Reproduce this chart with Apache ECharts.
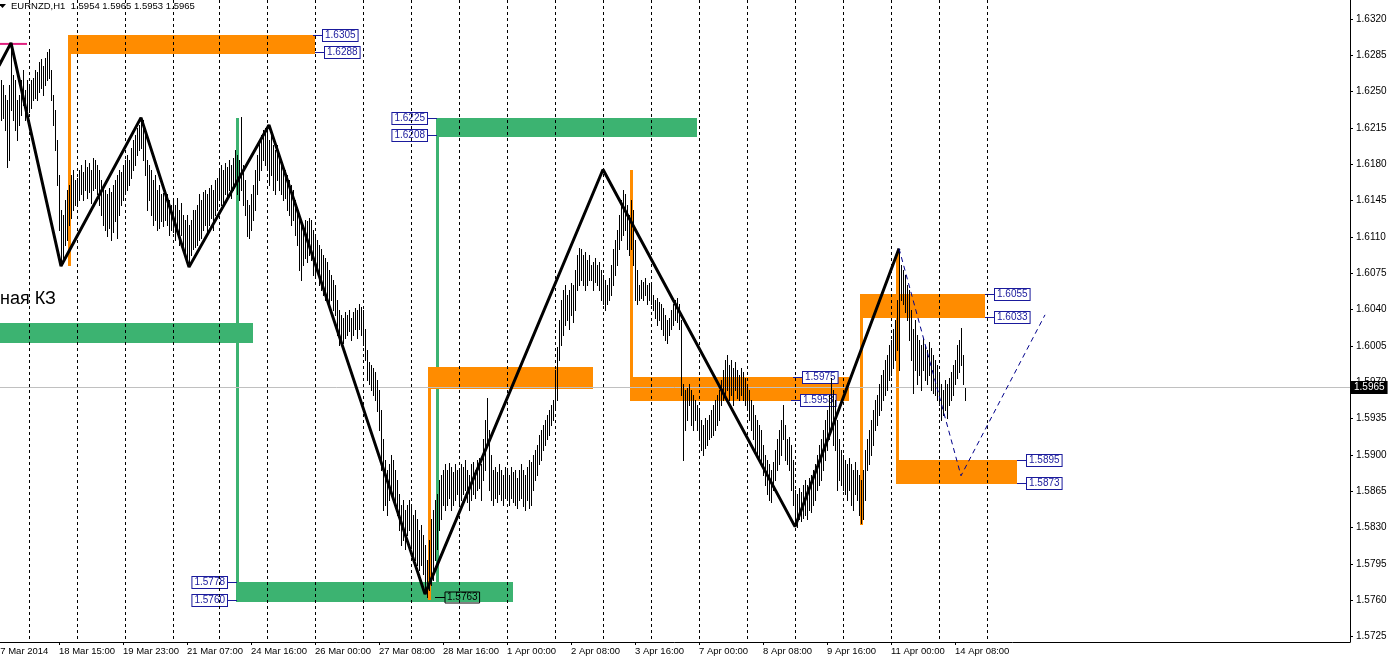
<!DOCTYPE html>
<html><head><meta charset="utf-8">
<script src="https://cdn.jsdelivr.net/npm/echarts@6/dist/echarts.min.js"></script>
<style>html,body{margin:0;padding:0;background:#fff}#c{width:1393px;height:661px}</style>
</head><body><div id="c"></div>
<script>
// ---------------- data ----------------
const symbol = 'EURNZD,H1';
const lastOHLC = [1.5954, 1.5965, 1.5953, 1.5965];
const days = ['2014.03.17','2014.03.18','2014.03.19','2014.03.20','2014.03.21','2014.03.24','2014.03.25','2014.03.26','2014.03.27','2014.03.28','2014.03.31','2014.04.01','2014.04.02','2014.04.03','2014.04.04','2014.04.07','2014.04.08','2014.04.09','2014.04.10','2014.04.11','2014.04.14','2014.04.15','2014.04.16','2014.04.17','2014.04.18','2014.04.21','2014.04.22','2014.04.23','2014.04.24'];
const firstBar = '2014.03.17 07:00';
const missingBars = ['2014.03.21 23:00'];
const barCount = 678;
const monthNames = ['Jan','Feb','Mar','Apr','May','Jun','Jul','Aug','Sep','Oct','Nov','Dec'];
const yTicks = [1.5725,1.5760,1.5795,1.5830,1.5865,1.5900,1.5935,1.5970,1.6005,1.6040,1.6075,1.6110,1.6145,1.6180,1.6215,1.6250,1.6285,1.6320];

// H1 bar highs / lows, from 17 Mar 07:00 to 14 Apr 13:00
const highs = [
 1.6271,1.6276,1.6281,1.6261,1.6256,1.6247,1.6242,1.6256,1.6296,1.6266,1.6261,1.6242,1.6247,1.6261,1.6271,1.6252,1.6261,
 1.6256,1.6261,1.6263,1.6271,1.6269,1.6279,1.6281,1.6275,1.6282,1.6288,1.6291,1.6271,1.6247,1.6232,1.6203,1.6170,1.6136,1.6131,1.6146,1.6155,1.6160,1.6170,1.6175,1.6165,
 1.6167,1.6175,1.6179,1.6173,1.6184,1.6177,1.6181,1.6175,1.6186,1.6184,1.6179,1.6175,1.6165,1.6160,1.6155,1.6151,1.6157,1.6153,1.6160,1.6165,1.6170,1.6175,1.6173,1.6179,
 1.6184,1.6189,1.6184,1.6196,1.6203,1.6208,1.6215,1.6218,1.6225,1.6223,1.6213,1.6184,1.6179,1.6175,1.6165,1.6170,1.6155,1.6160,1.6151,1.6152,1.6155,1.6151,1.6146,1.6141,
 1.6146,1.6141,1.6148,1.6136,1.6143,1.6131,1.6126,1.6131,1.6122,1.6126,1.6136,1.6136,1.6141,1.6151,1.6146,1.6153,1.6155,1.6151,1.6157,1.6160,1.6155,1.6165,1.6167,
 1.6175,1.6179,1.6175,1.6181,1.6177,1.6184,1.6179,1.6186,1.6194,1.6189,1.6184,1.6226,1.6179,1.6165,1.6146,1.6141,1.6151,1.6160,1.6175,1.6189,1.6203,1.6208,1.6213,1.6215,
 1.6218,1.6203,1.6208,1.6199,1.6194,1.6199,1.6189,1.6184,1.6179,1.6175,1.6170,1.6165,1.6160,1.6155,1.6146,1.6136,1.6126,1.6125,1.6122,1.6126,1.6125,1.6128,1.6126,1.6117,
 1.6112,1.6107,1.6102,1.6098,1.6093,1.6090,1.6086,1.6078,1.6073,1.6069,1.6064,1.6049,1.6040,1.6035,1.6032,1.6038,1.6035,1.6040,1.6032,1.6038,1.6042,1.6040,1.6045,1.6043,
 1.6040,1.6021,1.6001,1.5990,1.5987,1.5984,1.5980,1.5972,1.5963,1.5943,1.5915,1.5895,1.5886,1.5891,1.5900,1.5895,1.5886,1.5876,1.5862,1.5852,1.5857,1.5847,1.5852,1.5857,
 1.5852,1.5842,1.5847,1.5838,1.5828,1.5833,1.5823,1.5813,1.5799,1.5818,1.5838,1.5847,1.5857,1.5862,1.5876,1.5881,1.5886,1.5891,1.5886,1.5892,1.5888,1.5884,1.5891,1.5886,
 1.5886,1.5891,1.5888,1.5895,1.5886,1.5881,1.5891,1.5893,1.5886,1.5895,1.5897,1.5891,1.5915,1.5934,1.5955,1.5924,1.5900,1.5886,1.5888,1.5884,1.5891,1.5886,1.5881,1.5888,
 1.5886,1.5881,1.5888,1.5884,1.5886,1.5878,1.5886,1.5891,1.5886,1.5881,1.5888,1.5895,1.5893,1.5900,1.5905,1.5910,1.5919,1.5924,1.5929,1.5934,1.5939,1.5943,1.5948,1.5953,
 1.5982,1.6004,1.6030,1.6049,1.6059,1.6064,1.6054,1.6059,1.6066,1.6064,1.6078,1.6093,1.6099,1.6098,1.6093,1.6096,1.6088,1.6093,1.6083,1.6086,1.6090,1.6083,1.6086,1.6078,
 1.6073,1.6069,1.6064,1.6071,1.6083,1.6098,1.6107,1.6117,1.6131,1.6146,1.6155,1.6151,1.6141,1.6131,1.6146,1.6136,1.6107,1.6078,1.6064,1.6069,1.6067,1.6071,1.6064,1.6066,
 1.6064,1.6054,1.6049,1.6051,1.6047,1.6045,1.6042,1.6035,1.6030,1.6032,1.6040,1.6045,1.6049,1.6051,1.6045,1.6030,1.5968,1.5963,1.5965,1.5968,1.5963,1.5958,1.5953,1.5948,
 1.5943,1.5934,1.5929,1.5936,1.5934,1.5939,1.5943,1.5948,1.5953,1.5958,1.5963,1.5972,1.5982,1.5992,1.5996,1.5987,1.5992,1.5984,1.5990,1.5982,1.5977,1.5984,1.5980,1.5974,
 1.5968,1.5963,1.5953,1.5948,1.5939,1.5934,1.5929,1.5924,1.5910,1.5900,1.5895,1.5891,1.5886,1.5893,1.5905,1.5915,1.5924,1.5934,1.5948,1.5929,1.5915,1.5917,1.5910,1.5895,
 1.5866,1.5862,1.5868,1.5864,1.5871,1.5876,1.5871,1.5878,1.5881,1.5886,1.5891,1.5900,1.5910,1.5915,1.5924,1.5934,1.5943,1.5958,1.5974,1.5963,1.5953,1.5934,1.5915,1.5905,
 1.5900,1.5895,1.5891,1.5897,1.5891,1.5886,1.5893,1.5886,1.5881,1.5876,1.5886,1.5905,1.5915,1.5924,1.5934,1.5943,1.5953,1.5958,1.5968,1.5977,1.5982,1.5992,1.5996,1.6006,
 1.6011,1.6021,1.6030,1.6049,1.6098,1.6083,1.6078,1.6073,1.6064,1.6059,1.6040,1.6021,1.6030,1.6016,1.6011,1.6006,1.6013,1.6006,1.6001,1.6009,1.6003,1.5996,1.5992,1.5987,
 1.5977,1.5968,1.5963,1.5972,1.5968,1.5974,1.5980,1.5987,1.5992,1.6006,1.6011,1.6022,1.5996,1.5965
];
const lows = [
 1.6242,1.6247,1.6252,1.6223,1.6225,1.6213,1.6177,1.6184,1.6232,1.6223,1.6213,1.6203,1.6218,1.6228,1.6237,1.6223,1.6232,
 1.6230,1.6234,1.6242,1.6244,1.6242,1.6250,1.6254,1.6247,1.6256,1.6261,1.6263,1.6242,1.6218,1.6194,1.6160,1.6117,1.6086,1.6090,1.6102,1.6107,1.6122,1.6128,1.6136,1.6141,
 1.6141,1.6146,1.6151,1.6146,1.6155,1.6148,1.6153,1.6143,1.6155,1.6157,1.6151,1.6141,1.6131,1.6122,1.6117,1.6111,1.6119,1.6107,1.6115,1.6125,1.6109,1.6131,1.6141,1.6146,
 1.6151,1.6155,1.6160,1.6167,1.6175,1.6179,1.6189,1.6194,1.6196,1.6184,1.6170,1.6136,1.6146,1.6131,1.6122,1.6126,1.6117,1.6119,1.6125,1.6121,1.6126,1.6122,1.6112,1.6117,
 1.6115,1.6107,1.6117,1.6102,1.6112,1.6098,1.6090,1.6086,1.6082,1.6093,1.6098,1.6100,1.6102,1.6107,1.6109,1.6117,1.6122,1.6112,1.6122,1.6128,1.6117,1.6131,1.6136,
 1.6146,1.6141,1.6143,1.6151,1.6146,1.6155,1.6148,1.6155,1.6160,1.6151,1.6146,1.6155,1.6141,1.6131,1.6111,1.6109,1.6117,1.6126,1.6136,1.6151,1.6165,1.6175,1.6184,1.6179,
 1.6175,1.6160,1.6170,1.6155,1.6151,1.6165,1.6155,1.6151,1.6146,1.6148,1.6136,1.6131,1.6122,1.6126,1.6112,1.6102,1.6078,1.6069,1.6083,1.6090,1.6086,1.6093,1.6088,1.6073,
 1.6073,1.6078,1.6064,1.6059,1.6054,1.6049,1.6051,1.6045,1.6049,1.6040,1.6035,1.6016,1.6006,1.6011,1.6008,1.6013,1.6016,1.6019,1.6011,1.6016,1.6021,1.6013,1.6021,1.6016,
 1.6006,1.5992,1.5972,1.5968,1.5963,1.5958,1.5953,1.5942,1.5924,1.5886,1.5847,1.5852,1.5842,1.5857,1.5866,1.5859,1.5852,1.5842,1.5828,1.5813,1.5818,1.5809,1.5823,1.5828,
 1.5813,1.5804,1.5799,1.5794,1.5789,1.5794,1.5785,1.5770,1.5763,1.5770,1.5775,1.5780,1.5799,1.5809,1.5828,1.5838,1.5852,1.5847,1.5852,1.5859,1.5847,1.5852,1.5857,1.5862,
 1.5852,1.5857,1.5862,1.5866,1.5855,1.5847,1.5857,1.5862,1.5859,1.5866,1.5868,1.5857,1.5876,1.5886,1.5910,1.5866,1.5857,1.5852,1.5859,1.5855,1.5862,1.5857,1.5852,1.5859,
 1.5857,1.5852,1.5859,1.5855,1.5852,1.5849,1.5857,1.5859,1.5851,1.5847,1.5857,1.5849,1.5852,1.5866,1.5876,1.5881,1.5891,1.5895,1.5905,1.5910,1.5915,1.5919,1.5929,1.5934,
 1.5943,1.5953,1.5992,1.6006,1.6016,1.6025,1.6030,1.6021,1.6035,1.6028,1.6040,1.6059,1.6064,1.6069,1.6064,1.6059,1.6064,1.6069,1.6069,1.6059,1.6067,1.6064,1.6059,1.6049,
 1.6045,1.6040,1.6045,1.6049,1.6054,1.6064,1.6073,1.6083,1.6098,1.6107,1.6112,1.6117,1.6098,1.6093,1.6098,1.6083,1.6049,1.6045,1.6049,1.6051,1.6049,1.6054,1.6045,1.6049,
 1.6045,1.6040,1.6032,1.6025,1.6030,1.6021,1.6016,1.6011,1.6008,1.6016,1.6021,1.6025,1.6030,1.6028,1.6021,1.5958,1.5895,1.5924,1.5934,1.5948,1.5929,1.5924,1.5934,1.5924,
 1.5915,1.5905,1.5900,1.5907,1.5910,1.5915,1.5917,1.5919,1.5924,1.5929,1.5934,1.5948,1.5953,1.5958,1.5963,1.5953,1.5958,1.5948,1.5963,1.5955,1.5953,1.5958,1.5953,1.5948,
 1.5943,1.5934,1.5924,1.5915,1.5905,1.5900,1.5895,1.5891,1.5881,1.5871,1.5862,1.5857,1.5855,1.5866,1.5876,1.5886,1.5891,1.5900,1.5915,1.5895,1.5891,1.5886,1.5866,1.5852,
 1.5833,1.5831,1.5838,1.5836,1.5839,1.5842,1.5838,1.5847,1.5845,1.5852,1.5857,1.5866,1.5871,1.5876,1.5886,1.5895,1.5905,1.5915,1.5924,1.5910,1.5905,1.5866,1.5876,1.5871,
 1.5866,1.5862,1.5857,1.5866,1.5852,1.5847,1.5862,1.5857,1.5842,1.5835,1.5838,1.5857,1.5886,1.5891,1.5900,1.5910,1.5924,1.5929,1.5939,1.5943,1.5953,1.5958,1.5963,1.5972,
 1.5977,1.5984,1.5992,1.6001,1.5982,1.6049,1.6045,1.6038,1.6030,1.6011,1.5992,1.5960,1.5982,1.5968,1.5977,1.5963,1.5982,1.5972,1.5968,1.5977,1.5963,1.5960,1.5958,1.5953,
 1.5948,1.5934,1.5939,1.5943,1.5936,1.5948,1.5953,1.5958,1.5968,1.5974,1.5980,1.5987,1.5968,1.5953
];

// supply / demand zones (rectangles with a vertical stem at the start)
const zoneStart  = ['2014.03.18 20:00','2014.03.17 07:00','2014.03.24 09:00','2014.03.28 13:00','2014.03.28 09:00','2014.04.03 14:00','2014.04.10 09:00','2014.04.11 03:00'];
const zoneEnd    = ['2014.03.26 00:00','2014.03.24 17:00','2014.04.01 03:00','2014.04.04 23:00','2014.04.02 19:00','2014.04.10 03:00','2014.04.14 23:00','2014.04.15 15:00'];
const zoneTop    = [1.6305,1.6027,1.5778,1.6225,1.5985,1.5975,1.6055,1.5895];
const zoneBottom = [1.6288,1.6009,1.5760,1.6208,1.5965,1.5953,1.6033,1.5873];
const zoneStem   = [1.6083,1.6027,1.6225,1.5763,1.5762,1.6175,1.5833,1.6095];
const zoneKind   = ['sell','buy','buy','buy','sell','sell','sell','sell'];

// price tags
const tagTime  = ['2014.03.25 23:00','2014.03.26 00:00','2014.03.28 13:00','2014.03.28 13:00','2014.03.24 09:00','2014.03.24 09:00','2014.04.08 23:00','2014.04.08 22:00','2014.04.14 23:00','2014.04.14 23:00','2014.04.15 15:00','2014.04.15 15:00','2014.03.28 12:00'];
const tagPrice = [1.6305,1.6288,1.6225,1.6208,1.5778,1.5760,1.5975,1.5953,1.6055,1.6033,1.5895,1.5873,1.5763];
const tagSide  = ['right','right','left','left','left','left','right','right','right','right','right','right','right'];
const tagDark  = [false,false,false,false,false,false,false,false,false,false,false,false,true];

// zigzag (hand drawn trend lines)
const zzTime  = ['2014.03.17 09:00','2014.03.17 15:00','2014.03.18 16:00','2014.03.20 08:00','2014.03.21 08:00','2014.03.25 01:00','2014.03.28 07:00','2014.04.03 00:00','2014.04.09 00:00','2014.04.11 04:00'];
const zzPrice = [1.6275,1.6297,1.6082,1.6225,1.6081,1.6218,1.5766,1.6175,1.5831,1.6099];
// projected path
const projTime  = ['2014.04.11 04:00','2014.04.14 11:00','2014.04.16 05:00'];
const projPrice = [1.6099,1.5880,1.6035];
// high marker
const markTime  = ['2014.03.17 07:00','2014.03.17 23:00'];
const markPrice = 1.6296;
const zoneNote = 'ная КЗ';

// ---------------- build ----------------
const categories = [];
outer: for (const d of days) {
  for (let h = 0; h < 24; h++) {
    const t = d + ' ' + String(h).padStart(2, '0') + ':00';
    if (t < firstBar || missingBars.includes(t)) continue;
    categories.push(t);
    if (categories.length === barCount) break outer;
  }
}
const idx = t => categories.indexOf(t);
const lastBar = highs.length - 1;
const sepTimes = days.slice(1, 22).map(d => d + ' 00:00');

const FONT = '"Liberation Sans", Arial, sans-serif';
const ORANGE = '#FF8C00', GREEN = '#3CB371', NAVY = '#1A1A9C';
const labelEvery = i => i % 32 === 0 && i <= lastBar;

const fmtX = (v, i) => {
  const [d, t] = v.split(' ');
  const [Y, M, D] = d.split('.');
  return i === 0 ? `${+D} ${monthNames[+M - 1]} ${Y}` : `${+D} ${monthNames[+M - 1]} ${t}`;
};

const chart = echarts.init(document.getElementById('c'), null, {renderer: 'canvas'});
chart.setOption({
  animation: false,
  backgroundColor: '#ffffff',
  textStyle: {fontFamily: FONT},
  grid: {left: -6, right: 43, top: 0, bottom: 19, containLabel: false, outerBoundsMode: 'none'},
  xAxis: {
    type: 'category', data: categories, boundaryGap: true,
    axisLine: {show: true, lineStyle: {color: '#000', width: 1}},
    axisTick: {show: true, alignWithLabel: true, length: 3, interval: labelEvery, lineStyle: {color: '#000'}},
    axisLabel: {show: true, interval: labelEvery, align: 'left', margin: 4, fontFamily: FONT, fontSize: 9.5, color: '#000', formatter: fmtX},
    splitLine: {show: false}
  },
  yAxis: {
    type: 'value', position: 'right', min: 1.57199, max: 1.63383,
    axisLine: {show: true, lineStyle: {color: '#000', width: 1}},
    axisTick: {show: true, length: 3, customValues: yTicks, lineStyle: {color: '#000'}},
    axisLabel: {show: true, customValues: yTicks, formatter: v => v.toFixed(4), margin: 6, fontFamily: FONT, fontSize: 10, color: '#000'},
    splitLine: {show: false}
  },
  graphic: [
    {type: 'polygon', silent: true, shape: {points: [[-1, 4], [6, 4], [2.5, 8]]}, style: {fill: '#000'}, z: 100},
    {type: 'text', left: 11, top: 1, silent: true, z: 100,
     style: {text: symbol + '  ' + lastOHLC.map(v => v.toFixed(4)).join(' '), font: '9.5px ' + FONT, fill: '#000'}},
    {type: 'text', left: 0, top: 290, silent: true, z: 100,
     style: {text: zoneNote, font: '18px ' + FONT, fill: '#000'}}
  ],
  series: [
    { // zones
      type: 'custom', z: 1, silent: true, clip: true,
      data: zoneStart.map((s, k) => [idx(s), idx(zoneEnd[k]), zoneTop[k], zoneBottom[k], zoneStem[k]]),
      encode: {x: [0, 1], y: [2, 3]},
      renderItem: (params, api) => {
        const k = params.dataIndex;
        const color = zoneKind[k] === 'buy' ? GREEN : ORANGE;
        const a = api.coord([api.value(0), api.value(2)]);
        const b = api.coord([api.value(1), api.value(3)]);
        const s = api.coord([api.value(0), api.value(4)]);
        const top = Math.min(a[1], b[1]), bot = Math.max(a[1], b[1]);
        const st = Math.min(top, s[1]), sb = Math.max(bot, s[1]);
        const x0 = Math.round(a[0]);
        return {type: 'group', children: [
          {type: 'rect', shape: {x: x0, y: Math.round(top), width: Math.round(b[0]) - x0, height: Math.round(bot - top) + 1}, style: {fill: color}},
          {type: 'rect', shape: {x: x0 - 1, y: Math.round(st), width: 3, height: Math.round(sb - st) + 1}, style: {fill: color}}
        ]};
      }
    },
    { // price tags
      type: 'custom', z: 1, silent: true, clip: true,
      data: tagTime.map((t, k) => [idx(t), tagPrice[k]]),
      encode: {x: 0, y: 1},
      renderItem: (params, api) => {
        const k = params.dataIndex;
        const p = api.coord([api.value(0), api.value(1)]);
        const dir = tagSide[k] === 'right' ? 1 : -1;
        const x0 = Math.round(p[0]), y0 = Math.round(p[1]) + 0.5;
        const x1 = x0 + dir * 10;
        const dark = tagDark[k];
        const col = dark ? '#000' : NAVY;
        return {type: 'group', children: [
          {type: 'line', shape: {x1: x0, y1: y0, x2: x1, y2: y0}, style: {stroke: col, lineWidth: 1}},
          {type: 'text', x: x1, y: y0, style: {
            text: api.value(1).toFixed(4), font: '10px ' + FONT, fill: col,
            align: dir > 0 ? 'left' : 'right', verticalAlign: 'middle',
            backgroundColor: dark ? null : '#fff', borderColor: col, borderWidth: 1, padding: [1, 2, 0, 2]}}
        ]};
      }
    },
    { // day separators
      type: 'custom', z: 2, silent: true, clip: true,
      data: sepTimes.map(t => [idx(t), lastOHLC[3]]),
      encode: {x: 0, y: 1},
      renderItem: (params, api) => {
        const p = api.coord([api.value(0), api.value(1)]);
        const cs = params.coordSys;
        const x = Math.round(p[0]) + 0.5;
        return {type: 'line', shape: {x1: x, y1: cs.y, x2: x, y2: cs.y + cs.height}, style: {stroke: '#000', lineWidth: 1, lineDash: [3, 3]}};
      }
    },
    { // H1 bars
      type: 'custom', z: 3, silent: true, clip: true,
      data: highs.map((h, i) => [i, h, lows[i]]),
      encode: {x: 0, y: [1, 2]},
      renderItem: (params, api) => {
        const hi = api.coord([api.value(0), api.value(1)]);
        const lo = api.coord([api.value(0), api.value(2)]);
        const x = Math.round(hi[0]) + 0.5;
        return {type: 'line', shape: {x1: x, y1: Math.round(hi[1]), x2: x, y2: Math.round(lo[1]) + 1}, style: {stroke: '#000', lineWidth: 1}};
      },
      markLine: {
        silent: true, z: 2, symbol: ['none', 'none'], animation: false, precision: 4,
        lineStyle: {color: '#C0C0C0', type: 'solid', width: 1},
        label: {show: true, position: 'end', distance: 1, formatter: p => Number(p.value).toFixed(4),
          color: '#fff', backgroundColor: '#000', padding: [2, 3, 1, 3], fontSize: 10, fontFamily: FONT},
        emphasis: {disabled: true},
        data: [{yAxis: lastOHLC[3]}]
      }
    },
    { // high marker
      type: 'line', z: 4, silent: true, symbol: 'none',
      data: markTime.map(t => [t, markPrice]),
      lineStyle: {color: '#E0207F', width: 2}
    },
    { // zigzag
      type: 'line', z: 5, silent: true, symbol: 'none',
      data: zzTime.map((t, k) => [t, zzPrice[k]]),
      lineStyle: {color: '#000', width: 3}
    },
    { // projection
      type: 'line', z: 5, silent: true, symbol: 'none',
      data: projTime.map((t, k) => [t, projPrice[k]]),
      lineStyle: {color: '#00008B', width: 1, type: [5, 4]}
    }
  ]
});
</script>
</body></html>
